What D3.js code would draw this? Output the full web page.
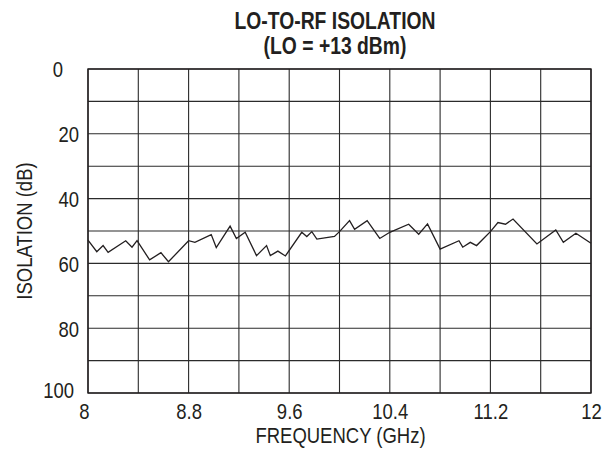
<!DOCTYPE html>
<html><head><meta charset="utf-8">
<script src="https://cdn.jsdelivr.net/npm/d3@7"></script>
<style>
html,body{margin:0;padding:0;background:#fff;}
text{font-family:"Liberation Sans",Arial,sans-serif;fill:#231f20;}
</style></head>
<body><svg id="c" width="615" height="451"></svg>
<script>
const freq = [8.00,8.07,8.12,8.16,8.30,8.35,8.39,8.49,8.58,8.64,8.80,8.85,8.98,9.02,9.13,9.18,9.25,9.34,9.42,9.45,9.51,9.57,9.70,9.74,9.78,9.82,9.96,10.00,10.08,10.12,10.22,10.32,10.40,10.55,10.63,10.70,10.80,10.95,10.98,11.04,11.09,11.20,11.26,11.32,11.38,11.57,11.72,11.78,11.88,12.00];
const isolation = [52.8,56.4,54.5,56.6,53.0,55.0,53.0,58.9,56.7,59.5,53.0,53.5,51.1,55.1,48.5,52.3,50.4,57.6,54.5,57.6,56.2,57.7,50.4,51.7,50.2,52.5,51.7,50.2,46.8,49.5,46.8,52.3,50.4,47.9,51.0,47.8,55.6,53.0,55.0,53.5,54.5,50.2,47.4,47.9,46.3,54.0,49.7,53.5,50.7,53.8];
const xTickValues = [8, 8.8, 9.6, 10.4, 11.2, 12];
const xTickLabels = ["8", "8.8", "9.6", "10.4", "11.2", "12"];
const xGridValues = [8, 8.4, 8.8, 9.2, 9.6, 10, 10.4, 10.8, 11.2, 11.6, 12];
const yTickValues = [0, 20, 40, 60, 80, 100];
const yTickLabels = ["0", "20", "40", "60", "80", "100"];
const yGridValues = [0, 10, 20, 30, 40, 50, 60, 70, 80, 90, 100];
const titleLines = ["LO-TO-RF ISOLATION", "(LO = +13 dBm)"];
const xTitle = "FREQUENCY (GHz)";
const yTitle = "ISOLATION (dB)";

const L = 88, R = 591, T = 69, B = 393;
const svg = d3.select("#c");
const x = d3.scaleLinear().domain([8, 12]).range([L, R]);
const y = d3.scaleLinear().domain([0, 100]).range([T, B]);
const condense = 0.84;

// grid
const g = svg.append("g");
g.selectAll("line.v").data(xGridValues).join("line")
  .attr("x1", d => x(d)).attr("x2", d => x(d)).attr("y1", T).attr("y2", B)
  .attr("stroke", "#2b2b2b").attr("stroke-width", 1.1);
g.selectAll("line.h").data(yGridValues).join("line")
  .attr("y1", d => y(d)).attr("y2", d => y(d)).attr("x1", L).attr("x2", R)
  .attr("stroke", "#2b2b2b").attr("stroke-width", 1.1);
svg.append("rect").attr("x", L).attr("y", T).attr("width", R - L).attr("height", B - T)
  .attr("fill", "none").attr("stroke", "#231f20").attr("stroke-width", 1.4);

// data line
svg.append("path").datum(freq.map((f, i) => [f, isolation[i]]))
  .attr("fill", "none").attr("stroke", "#231f20").attr("stroke-width", 1.3)
  .attr("stroke-linejoin", "miter")
  .attr("d", d3.line().x(d => x(d[0])).y(d => y(d[1])));

// x axis labels
const xa = svg.append("g").attr("transform", `translate(0,${B})`)
  .call(d3.axisBottom(x).tickValues(xTickValues).tickSize(0).tickPadding(0)
    .tickFormat((d, i) => xTickLabels[i]));
xa.select(".domain").remove();
xa.selectAll("text").attr("font-size", 22).attr("dy", null).attr("y", 26)
  .attr("dx", (d, i) => i === 0 ? -4 : 0).attr("fill", "#231f20");

// y axis labels
const ya = svg.append("g").attr("transform", `translate(${L},0)`)
  .call(d3.axisLeft(y).tickValues(yTickValues).tickSize(0).tickPadding(0)
    .tickFormat((d, i) => yTickLabels[i]));
ya.select(".domain").remove();
ya.selectAll("text").attr("font-size", 22).attr("dy", "0.36em").attr("fill", "#231f20")
  .attr("x", (d, i) => i === 0 ? -25 : (i === yTickValues.length - 1 ? -14 : -9))
  .attr("y", (d, i) => i === yTickValues.length - 1 ? -3 : 0);

// titles
svg.selectAll("text.title").data(titleLines).join("text").attr("class", "title")
  .attr("x", 335).attr("y", (d, i) => 29 + i * 25).attr("text-anchor", "middle")
  .attr("font-size", 23).attr("font-weight", "bold").text(d => d);
svg.append("text").attr("x", (L + R) / 2 + 1).attr("y", 443).attr("text-anchor", "middle")
  .attr("font-size", 22).text(xTitle);
svg.append("text").attr("transform", `translate(32,${(T + B) / 2}) rotate(-90)`)
  .attr("text-anchor", "middle").attr("font-size", 22).text(yTitle);

// condense all text to mimic a narrow typeface
svg.selectAll("text").each(function () {
  const len = this.getComputedTextLength();
  d3.select(this).attr("textLength", len * condense).attr("lengthAdjust", "spacingAndGlyphs");
});
</script></body></html>
